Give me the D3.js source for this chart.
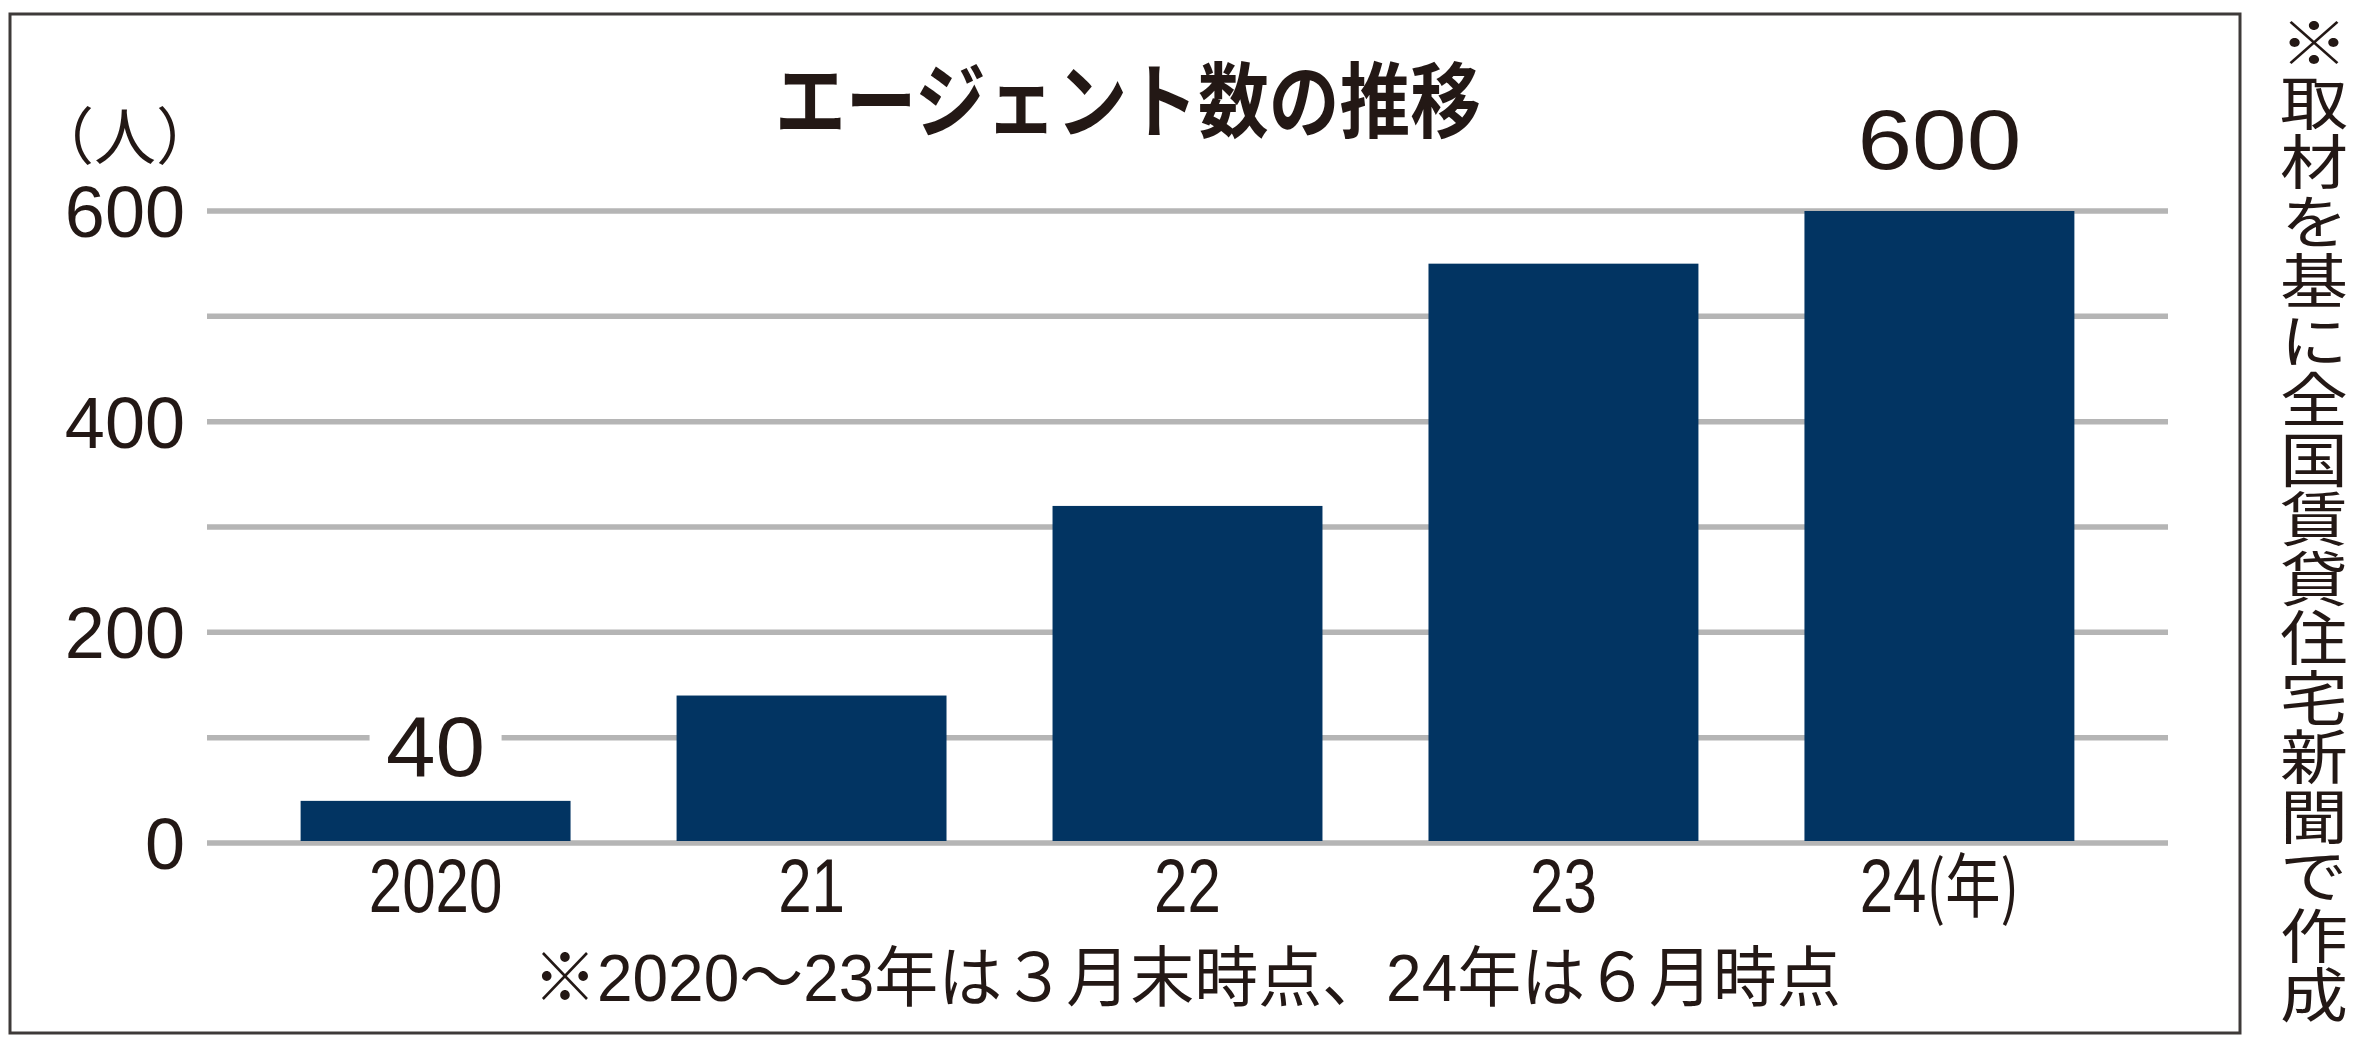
<!DOCTYPE html>
<html><head><meta charset="utf-8">
<script src="https://cdn.jsdelivr.net/npm/d3@7/dist/d3.min.js"></script>
<style>
html,body{margin:0;padding:0;background:#fff;}
svg{display:block;}
</style></head>
<body>
<svg id="chart" width="2366" height="1041"></svg>
<script>
// ---- data ----
const categories = ["2020", "21", "22", "23", "24"];
const values = [40, 140, 320, 550, 600];
const yTicks = [0, 100, 200, 300, 400, 500, 600];
const yTickLabels = ["0", "", "200", "", "400", "", "600"];
const valueLabels = {"2020": "40", "24": "600"};
const title = "エージェント数の推移";
const unitLabel = "（人）";
const yearSuffix = "(年)";
const footnote = "※2020～23年は３月末時点、24年は６月時点";
const sourceNote = "※取材を基に全国賃貸住宅新聞で作成";

// ---- layout ----
const W = 2366, H = 1041;
const ink = "#231815";
const barColor = "#023462";
const gridColor = "#b5b5b5";
const latin = "'Liberation Sans', Arial, 'Noto Sans CJK JP', sans-serif";
const cjk = "'Noto Sans CJK JP', sans-serif";

const svg = d3.select("#chart");
svg.append("rect").attr("width", W).attr("height", H).attr("fill", "#fff");

// frame
svg.append("rect")
  .attr("x", 10).attr("y", 14).attr("width", 2230).attr("height", 1019)
  .attr("fill", "none").attr("stroke", "#3e3a39").attr("stroke-width", 3);

const x = d3.scaleBand().domain(categories).range([207, 2168])
  .paddingInner(0.282).paddingOuter(0.249);
const y = d3.scaleLinear().domain([0, 600]).range([843, 211]);

// gridlines
svg.append("g").selectAll("line").data(yTicks).join("line")
  .attr("x1", 207).attr("x2", 2168)
  .attr("y1", d => y(d)).attr("y2", d => y(d))
  .attr("stroke", gridColor).attr("stroke-width", 5.5);

// y tick labels
svg.append("g").selectAll("text").data(yTicks.filter((d, i) => yTickLabels[i] !== "")).join("text")
  .attr("x", 185).attr("y", d => y(d) + 26)
  .attr("text-anchor", "end")
  .attr("font-family", latin).attr("font-size", 72).attr("fill", ink)
  .text(d => yTickLabels[yTicks.indexOf(d)]);

// unit label
svg.append("text")
  .attr("x", 125).attr("y", 160).attr("text-anchor", "middle")
  .attr("font-family", cjk).attr("font-size", 62).attr("fill", ink)
  .text(unitLabel);

// bars
svg.append("g").selectAll("rect").data(categories).join("rect")
  .attr("x", d => x(d)).attr("width", x.bandwidth())
  .attr("y", (d, i) => y(values[i]))
  .attr("height", (d, i) => y(0) - 2 - y(values[i]))
  .attr("fill", barColor);

// x labels
const xl = svg.append("g").selectAll("g").data(categories).join("g")
  .attr("transform", d => `translate(${x(d) + x.bandwidth() / 2},912) scale(0.79,1)`);
xl.append("text")
  .attr("text-anchor", "middle")
  .attr("font-family", latin).attr("font-size", 76).attr("fill", ink)
  .each(function(d, i) {
    const t = d3.select(this);
    t.append("tspan").text(d);
    if (i === categories.length - 1) {
      t.append("tspan").attr("font-family", cjk).attr("font-size", 70).text(yearSuffix);
    }
  });

// value labels
const labelGap = {"2020": 25, "24": 42};
Object.keys(valueLabels).forEach(k => {
  const i = categories.indexOf(k);
  const cx = x(k) + x.bandwidth() / 2;
  const by = y(values[i]) - labelGap[k];
  const lab = valueLabels[k];
  const w = lab.length * 50;
  svg.append("rect")
    .attr("x", cx - w / 2 - 16).attr("y", by - 62).attr("width", w + 32).attr("height", 66)
    .attr("fill", "#fff");
  svg.append("text")
    .attr("x", cx).attr("y", by).attr("text-anchor", "middle")
    .attr("font-family", latin).attr("font-size", 86).attr("fill", ink)
    .attr("textLength", lab.length === 2 ? 99 : 164).attr("lengthAdjust", "spacingAndGlyphs")
    .text(lab);
});

// title
svg.append("text")
  .attr("x", 775).attr("y", 131)
  .attr("font-family", cjk).attr("font-weight", 700).attr("font-size", 82).attr("fill", ink)
  .attr("textLength", 706).attr("lengthAdjust", "spacingAndGlyphs")
  .text(title);

// footnote
svg.append("text")
  .attr("x", 533).attr("y", 1001)
  .attr("font-family", latin).attr("font-size", 66).attr("fill", ink)
  .attr("textLength", 1308).attr("lengthAdjust", "spacingAndGlyphs")
  .text(footnote);

// vertical source note
svg.append("g").attr("transform", "translate(2314,13) scale(1,0.875)")
  .append("text")
  .attr("x", 0).attr("y", 0)
  .style("writing-mode", "vertical-rl")
  .attr("font-family", cjk).attr("font-size", 68).attr("fill", ink)
  .text(sourceNote);
</script>
</body></html>
